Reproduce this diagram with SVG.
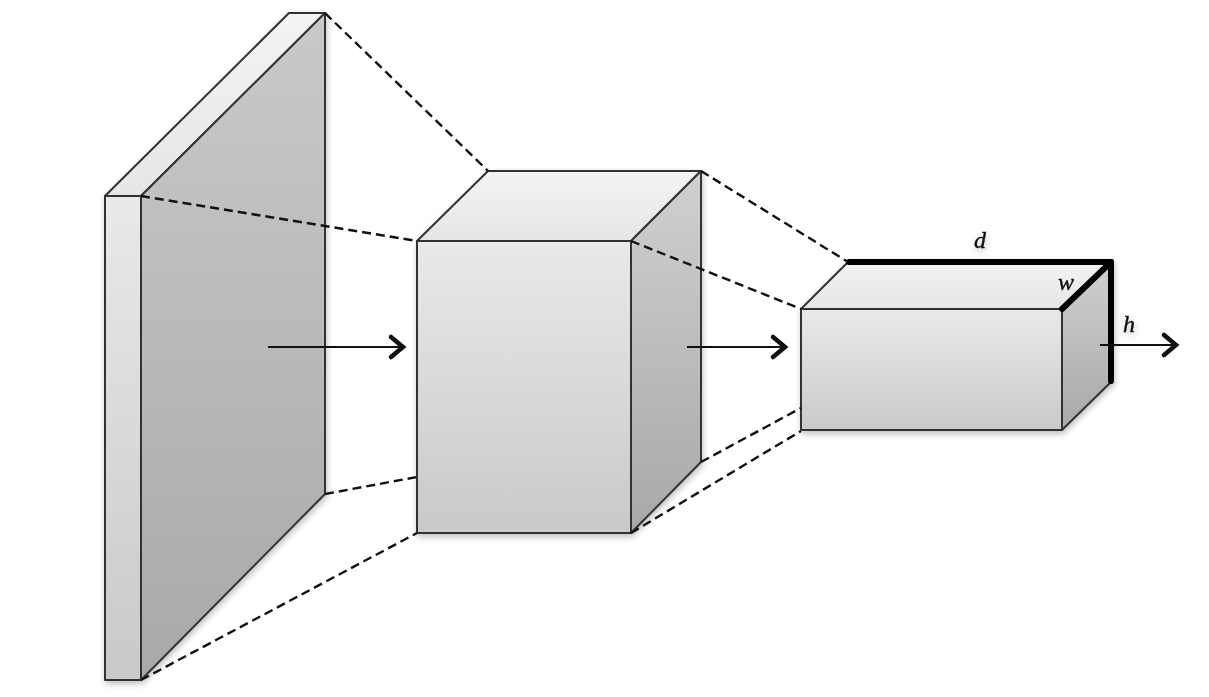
<svg xmlns="http://www.w3.org/2000/svg" width="1209" height="697" viewBox="0 0 1209 697">
  <style>
    .face { stroke: #333333; stroke-width: 2; stroke-linejoin: round; }
    .top { fill: url(#topGrad); }
    .front { fill: url(#frontGrad); }
    .side { fill: url(#sideGrad); }
    .slabside { fill: url(#slabSideGrad); }
    .dash { stroke: #111111; stroke-width: 2.4; stroke-dasharray: 9 5; fill: none; }
    .arrow { stroke: #111111; stroke-width: 2; fill: none; marker-end: url(#chevron); }
    .edge { stroke: #000000; stroke-width: 6; fill: none; stroke-linecap: round; stroke-linejoin: round; }
    .lbl { font-family: "Liberation Serif", "DejaVu Serif", serif; font-style: italic; font-size: 24px; fill: #111111; stroke: #111111; stroke-width: 0.4; }
  </style>
  <defs>
    <linearGradient id="topGrad" x1="0" y1="0" x2="0" y2="1">
      <stop offset="0" stop-color="#f3f3f3"/>
      <stop offset="1" stop-color="#e6e6e6"/>
    </linearGradient>
    <linearGradient id="frontGrad" x1="0" y1="0" x2="0" y2="1">
      <stop offset="0" stop-color="#e9e9e9"/>
      <stop offset="1" stop-color="#c9c9c9"/>
    </linearGradient>
    <linearGradient id="sideGrad" x1="0" y1="0" x2="0" y2="1">
      <stop offset="0" stop-color="#d0d0d0"/>
      <stop offset="1" stop-color="#a8a8a8"/>
    </linearGradient>
    <linearGradient id="slabSideGrad" x1="0" y1="0" x2="0" y2="1">
      <stop offset="0" stop-color="#c9c9c9"/>
      <stop offset="1" stop-color="#a9a9a9"/>
    </linearGradient>
    <filter id="shadow" x="-10%" y="-10%" width="130%" height="130%">
      <feDropShadow dx="1" dy="3" stdDeviation="3" flood-color="#000000" flood-opacity="0.25"/>
    </filter>
    <marker id="chevron" markerUnits="userSpaceOnUse" viewBox="-16 -15 20 30" markerWidth="20" markerHeight="30" refX="0" refY="0" orient="auto">
      <path d="M-12,-10 L0,0 L-12,10" stroke="#111111" stroke-width="4.5" fill="none" stroke-linecap="round" stroke-linejoin="miter"/>
    </marker>
  </defs>

  <!-- input slab -->
  <g id="slab" filter="url(#shadow)">
    <polygon class="face top" points="105,196 289,13 325,13 141,196"/>
    <polygon class="face slabside" points="141,196 325,13 325,494 141,680"/>
    <rect class="face front" x="105" y="196" width="36" height="484"/>
  </g>

  <!-- middle volume -->
  <g id="volume2" filter="url(#shadow)">
    <polygon class="face top" points="417,241 488,171 701,171 631,241"/>
    <polygon class="face side" points="631,241 701,171 701,462 631,533"/>
    <rect class="face front" x="417" y="241" width="214" height="292"/>
  </g>

  <!-- output volume with highlighted d, w, h edges -->
  <g id="volume3" filter="url(#shadow)">
    <polygon class="face top" points="801,309 848,262 1111,262 1062,309"/>
    <polygon class="face side" points="1062,309 1111,262 1111,382 1062,430"/>
    <rect class="face front" x="801" y="309" width="261" height="121"/>
    <polyline class="edge" points="849,262 1111,262 1062,309"/>
    <line class="edge" x1="1111" y1="262" x2="1111" y2="381"/>
    <text class="lbl" x="980" y="248" text-anchor="middle">d</text>
    <text class="lbl" x="1066" y="290" text-anchor="middle">w</text>
    <text class="lbl" x="1129" y="332" text-anchor="middle">h</text>
  </g>

  <!-- connectors -->
  <g id="connectors">
    <line class="dash" x1="325" y1="13" x2="488" y2="171"/>
    <line class="dash" x1="141" y1="196" x2="417" y2="241"/>
    <line class="dash" x1="325" y1="494" x2="417" y2="477"/>
    <line class="dash" x1="141" y1="680" x2="417" y2="533"/>
    <line class="dash" x1="701" y1="171" x2="848" y2="262"/>
    <line class="dash" x1="631" y1="241" x2="801" y2="309"/>
    <line class="dash" x1="701" y1="462" x2="801" y2="408"/>
    <line class="dash" x1="631" y1="533" x2="801" y2="431"/>
    <line class="arrow" x1="268" y1="347" x2="403" y2="347"/>
    <line class="arrow" x1="687" y1="347" x2="785" y2="347"/>
    <line class="arrow" x1="1100" y1="345" x2="1176" y2="345"/>
  </g>
</svg>
